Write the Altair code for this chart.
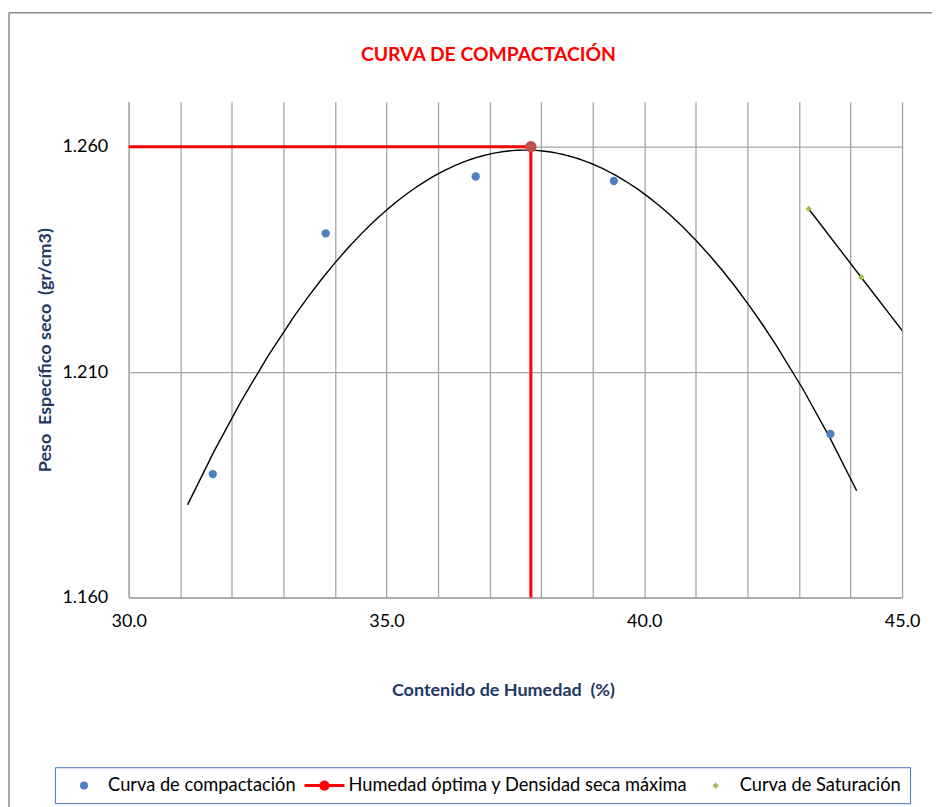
import altair as alt
import pandas as pd

# ---- data ----
w_comp = [31.63, 33.82, 36.73, 39.41, 43.61]          # Contenido de humedad (%)
d_comp = [1.1874, 1.2408, 1.2534, 1.2524, 1.1963]     # Peso específico seco (gr/cm3)

w_opt = 37.8    # humedad óptima
d_opt = 1.260   # densidad seca máxima

w_sat = [43.19, 44.21, 45.20]
d_sat = [1.2462, 1.2310, 1.2163]

trend_extent = [31.14, 44.12]

series_names = ["Curva de compactación", "Humedad óptima y Densidad seca máxima", "Curva de Saturación"]
series_colors = ["#4F81BD", "#FF0000", "#9BBB59"]

x_ticks = list(range(30, 46))
y_ticks = [1.16, 1.21, 1.26]

# ---- tables ----
comp = pd.DataFrame({"w": w_comp, "d": d_comp})
opt_path = pd.DataFrame({"w": [30.0, w_opt, w_opt], "d": [d_opt, d_opt, 1.16], "k": [0, 1, 2]})
opt_pt = pd.DataFrame({"w": [w_opt], "d": [d_opt]})
sat = pd.DataFrame({"w": w_sat, "d": d_sat})
leg = pd.DataFrame({"serie": series_names})
dummy = pd.DataFrame({"a": [0]})

NAVY = "#1F3864"
FONT = "Lato"

X = alt.X(
    "w:Q",
    scale=alt.Scale(domain=[30, 45], nice=False, zero=False),
    axis=alt.Axis(
        values=x_ticks,
        labelExpr="datum.value % 5 === 0 ? format(datum.value, '.1f') : ''",
        ticks=False,
        labelFlush=False,
        labelPadding=15,
        title="Contenido de Humedad\u00a0 (%)",
        titleX=375,
        titleY=93,
        titleBaseline="middle",
        titleAlign="center",
    ),
)
Y = alt.Y(
    "d:Q",
    scale=alt.Scale(domain=[1.16, 1.27], nice=False, zero=False),
    axis=alt.Axis(
        values=y_ticks,
        format=".3f",
        ticks=False,
        labelPadding=21,
        title="Peso\u00a0 Específico seco\u00a0 (gr/cm3)",
        titleX=-83,
        titleBaseline="middle",
    ),
)

border_top = alt.Chart(dummy).mark_rule(color="#8C8C8C", strokeWidth=1.5).encode(
    x=alt.value(-120), x2=alt.value(805), y=alt.value(-89)
)
border_left = alt.Chart(dummy).mark_rule(color="#8C8C8C", strokeWidth=1.5).encode(
    x=alt.value(-120), y=alt.value(-89), y2=alt.value(712)
)

trend = alt.Chart(comp).transform_regression(
    "w", "d", method="poly", order=2, extent=trend_extent
).mark_line(color="black", strokeWidth=1.4).encode(x=X, y=Y)

sat_line = alt.Chart(sat).mark_line(color="black", strokeWidth=1.4, clip=True).encode(x=X, y=Y)

opt_line = alt.Chart(opt_path).mark_line(color="#FF0000", strokeWidth=3).encode(
    x=X, y=Y, order="k:Q"
)

comp_pts = alt.Chart(comp).mark_point(filled=True, size=70, color="#4F81BD", opacity=1).encode(x=X, y=Y)
sat_pts = alt.Chart(sat).mark_point(
    filled=True, shape="diamond", size=40, color="#9BBB59", opacity=1, clip=True
).encode(x=X, y=Y)
opt_mark = alt.Chart(opt_pt).mark_point(filled=True, size=130, color="#C0504D", opacity=1).encode(x=X, y=Y)

# legend glyphs (unit space, scaled by sqrt(symbolSize)/2 = 4 px)
RED_SYMBOL = ("M-5,-0.375L5,-0.375L5,0.375L-5,0.375Z "
              "M-1.3,0A1.3,1.3 0 1,1 1.3,0A1.3,1.3 0 1,1 -1.3,0Z")
GREEN_SYMBOL = "M0,-0.8L0.8,0L0,0.8L-0.8,0Z"

legend_def = alt.Legend(
    title=None,
    orient="none",
    legendX=-74,
    legendY=667,
    direction="horizontal",
    padding=9,
    strokeColor="#4472C4",
    fillColor="white",
    labelFont=FONT,
    labelFontSize=18.3,
    labelColor="black",
    symbolSize=64,
    symbolOffset=11,
    labelOffset=15,
    labelLimit=0,
    columnPadding=8,
    symbolStrokeWidth=0,
    symbolOpacity=1,
)

legend_layer = alt.Chart(leg).mark_point(filled=True, opacity=0).encode(
    color=alt.Color("serie:N", scale=alt.Scale(domain=series_names, range=series_colors), legend=legend_def),
    shape=alt.Shape("serie:N", scale=alt.Scale(domain=series_names, range=["circle", RED_SYMBOL, GREEN_SYMBOL]), legend=legend_def),
)

chart = alt.layer(
    border_top, border_left, trend, sat_line, opt_line, comp_pts, sat_pts, opt_mark, legend_layer
).properties(
    width=775,
    height=497,
    padding={"left": 0, "top": 3, "right": 0, "bottom": 0},
    title=alt.TitleParams(
        "CURVA DE COMPACTACIÓN",
        color="#FF0000",
        font=FONT,
        fontSize=19.4,
        fontWeight="bold",
        anchor="middle",
        dx=-27,
        dy=57,
    ),
).configure_view(stroke=None).configure_axis(
    domainColor="#A6A6A6",
    domainWidth=1.5,
    gridColor="#A6A6A6",
    gridWidth=1.3,
    labelFont=FONT,
    labelFontSize=18,
    labelColor="black",
    titleFont=FONT,
    titleFontSize=18,
    titleFontWeight="bold",
    titleColor=NAVY,
)

chart.save("out.html", embed_options={"renderer": "svg", "actions": False})
